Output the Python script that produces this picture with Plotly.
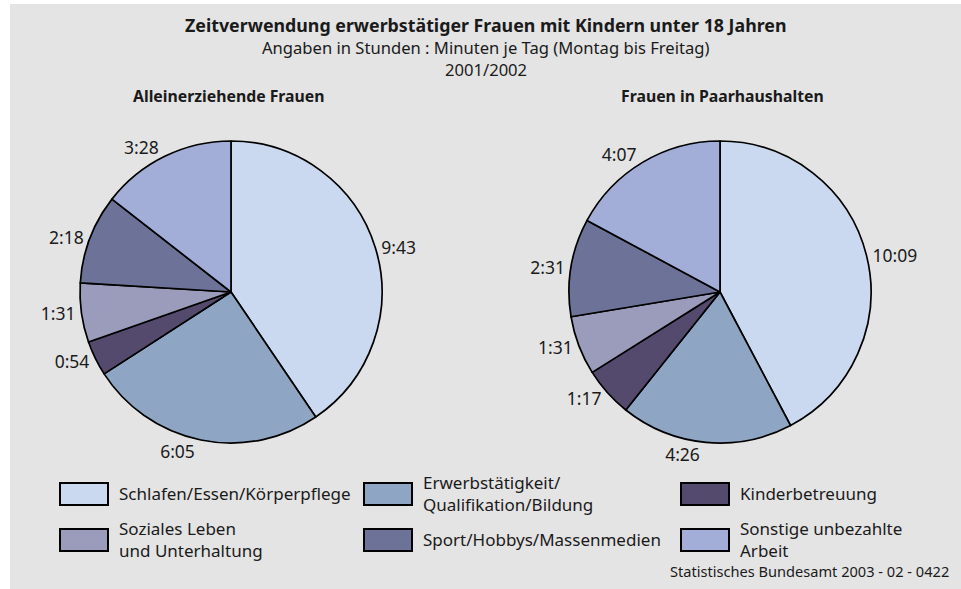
import plotly.graph_objects as go

W, H = 961, 589

categories = [
    "Schlafen/Essen/Körperpflege",
    "Erwerbstätigkeit/<br>Qualifikation/Bildung",
    "Kinderbetreuung",
    "Soziales Leben<br>und Unterhaltung",
    "Sport/Hobbys/Massenmedien",
    "Sonstige unbezahlte<br>Arbeit",
]
colors = ["#cad9f0", "#8ea6c4", "#534a6e", "#9b9cbb", "#6c7298", "#a2aed8"]

allein_labels = ["9:43", "6:05", "0:54", "1:31", "2:18", "3:28"]
paar_labels = ["10:09", "4:26", "1:17", "1:31", "2:31", "4:07"]

title = "Zeitverwendung erwerbstätiger Frauen mit Kindern unter 18 Jahren"
subtitle = "Angaben in Stunden : Minuten je Tag (Montag bis Freitag)"
period = "2001/2002"
panel_titles = ["Alleinerziehende Frauen", "Frauen in Paarhaushalten"]
source = "Statistisches Bundesamt 2003 - 02 - 0422"

FONT = "Noto Sans"
TXT = "#1a1a1a"


def to_minutes(s):
    h, m = s.split(":")
    return int(h) * 60 + int(m)


def px_x(x):
    return x / W


def px_y(y):
    return 1 - y / H


def pie_domain(cx, cy, r):
    return dict(x=[px_x(cx - r), px_x(cx + r)], y=[px_y(cy + r), px_y(cy - r)])


fig = go.Figure()

for labels, (cx, cy) in [(allein_labels, (231, 292)), (paar_labels, (720, 292))]:
    fig.add_trace(go.Pie(
        labels=categories,
        values=[to_minutes(v) for v in labels],
        text=labels,
        texttemplate="%{text}",
        textposition="outside",
        textfont=dict(family=FONT, size=17.5, color=TXT),
        marker=dict(colors=colors, line=dict(color="#000000", width=1.7)),
        sort=False,
        direction="clockwise",
        rotation=0,
        domain=pie_domain(cx, cy, 151),
        showlegend=False,
        hoverinfo="label+text",
    ))

shapes = [dict(type="rect", xref="paper", yref="paper",
               x0=px_x(10), x1=1, y0=0, y1=px_y(4),
               fillcolor="#e4e4e4", line=dict(width=0), layer="below")]

annotations = [
    dict(text="<b>" + title + "</b>", x=px_x(485), y=px_y(25), font=dict(size=17.8)),
    dict(text=subtitle, x=px_x(485), y=px_y(48), font=dict(size=16.6)),
    dict(text=period, x=px_x(486), y=px_y(69), font=dict(size=16.6)),
    dict(text="<b>" + panel_titles[0] + "</b>", x=px_x(229), y=px_y(96), font=dict(size=15.8)),
    dict(text="<b>" + panel_titles[1] + "</b>", x=px_x(722), y=px_y(96), font=dict(size=15.8)),
    dict(text=source, x=px_x(951), y=px_y(571), xanchor="right", font=dict(size=14.6)),
]

# Legend (3 columns x 2 rows)
col_x = [60, 364, 681]
row_y = [494, 540]
for k, cat in enumerate(categories):
    r, c = divmod(k, 3)
    x0 = col_x[c]
    yc = row_y[r]
    shapes.append(dict(type="rect", xref="paper", yref="paper",
                       x0=px_x(x0), x1=px_x(x0 + 48),
                       y0=px_y(yc + 11), y1=px_y(yc - 11),
                       fillcolor=colors[k], line=dict(color="#000000", width=2)))
    annotations.append(dict(text=cat, x=px_x(x0 + 57), y=px_y(yc - 1), xanchor="left",
                            align="left", font=dict(size=17)))

for a in annotations:
    a.setdefault("xref", "paper")
    a.setdefault("yref", "paper")
    a.setdefault("showarrow", False)
    a.setdefault("xanchor", "center")
    a.setdefault("yanchor", "middle")
    a["font"] = dict(family=FONT, color=TXT, **a["font"])

fig.update_layout(
    width=W, height=H,
    margin=dict(l=0, r=0, t=0, b=0),
    paper_bgcolor="#ffffff",
    plot_bgcolor="#ffffff",
    shapes=shapes,
    annotations=annotations,
    font=dict(family=FONT, color=TXT),
)

fig.write_html(
    "out.html",
    config={"displayModeBar": False},
    post_script="document.body.style.margin='0';document.body.style.overflow='hidden';",
)
